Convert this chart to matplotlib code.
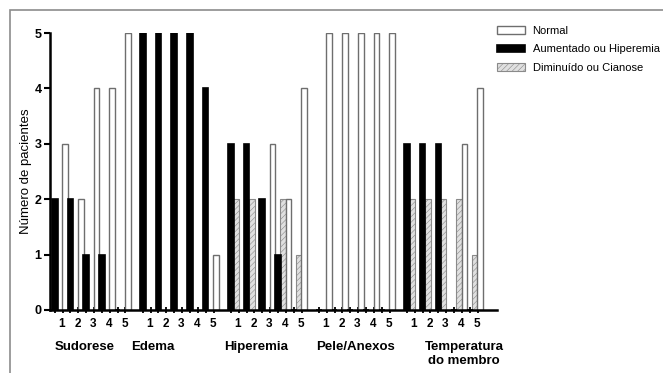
import matplotlib
matplotlib.use("Agg")
import matplotlib.pyplot as plt
from matplotlib.patches import Rectangle
import numpy as np

plt.rcParams['font.family'] = ['Liberation Sans', 'DejaVu Sans']
plt.rcParams['hatch.color'] = '#cfcfcf'
plt.rcParams['hatch.linewidth'] = 0.4

# ---- data ----
groups = ['Sudorese', 'Edema', 'Hiperemia', 'Pele/Anexos', 'Temperatura\ndo membro']
subs = ['1', '2', '3', '4', '5']
normal = [3, 2, 4, 4, 5,
          0, 0, 0, 0, 1,
          0, 0, 3, 2, 4,
          5, 5, 5, 5, 5,
          0, 0, 0, 3, 4]
aumentado = [2, 2, 1, 1, 0,
             5, 5, 5, 5, 4,
             3, 3, 2, 1, 0,
             0, 0, 0, 0, 0,
             3, 3, 3, 0, 0]
diminuido = [0, 0, 0, 0, 0,
             0, 0, 0, 0, 0,
             2, 2, 0, 2, 1,
             0, 0, 0, 0, 0,
             2, 2, 2, 2, 1]
series_labels = ['Normal', 'Aumentado ou Hiperemia', 'Diminuído ou Cianose']
ylabel = 'Número de pacientes'

# ---- layout ----
W, H = 663, 373
fig = plt.figure(figsize=(W / 100, H / 100), dpi=100)
ax = fig.add_axes([50 / W, 1 - 310 / H, 447 / W, 277 / H])

gap = 0.6
nsub = len(subs)
group_start = np.array([g * (nsub + gap) for g in range(len(groups))])
slot_x = np.concatenate([gs + np.arange(nsub) for gs in group_start])
bw = 0.36

b_aum = ax.bar(slot_x + 0.17, aumentado, width=bw, color='black',
               edgecolor='black', linewidth=1.2, label=series_labels[1], zorder=3)
b_dim = ax.bar(slot_x + 0.5, diminuido, width=bw, color='#e0e0e0',
               edgecolor='#8a8a8a', linewidth=0.8, hatch='//////',
               label=series_labels[2], zorder=2)
b_nor = ax.bar(slot_x + 0.83, normal, width=bw, color='white',
               edgecolor='#6e6e6e', linewidth=1.0, label=series_labels[0], zorder=2)

ax.set_xlim(-0.13, 28.3)
ax.set_ylim(0, 5)
for s in ['top', 'right']:
    ax.spines[s].set_visible(False)
for s in ['left', 'bottom']:
    ax.spines[s].set_linewidth(1.8)
    ax.spines[s].set_zorder(5)

ax.set_yticks(range(0, 6))
ax.set_yticklabels([str(i) for i in range(0, 6)], fontsize=9, fontweight='bold')
ax.tick_params(axis='y', length=4, width=1.5, pad=2)

# x ticks: sub labels under each slot
ax.set_xticks(slot_x + 0.62)
ax.set_xticklabels(subs * len(groups), fontsize=8.5, fontweight='bold')
ax.tick_params(axis='x', length=0, pad=6)
minor = np.concatenate([slot_x + 0.17, slot_x + 0.67])
ax.set_xticks(minor, minor=True)
ax.tick_params(axis='x', which='minor', length=5, width=1.3, direction='inout')

ax.set_ylabel(ylabel, fontsize=9.5, labelpad=2)

group_label_x = [2.05, 6.4, 13.0, 19.3, 26.2]
for gx, name in zip(group_label_x, groups):
    two = '\n' in name
    ax.text(gx, -0.56 if two else -0.67, name, ha='center',
            va='top' if two else 'center',
            fontsize=9.5, fontweight='bold', linespacing=1.25,
            transform=ax.transData, clip_on=False)

# legend
leg = fig.legend(handles=[b_nor, b_aum, b_dim], labels=series_labels,
                 loc='upper left', bbox_to_anchor=(497 / W, 1 - 26 / H),
                 frameon=False, fontsize=8, handlelength=2.5, handleheight=0.7,
                 labelspacing=0.75, handletextpad=0.7, borderpad=0, borderaxespad=0)

# outer frame
fig.add_artist(Rectangle((10 / W, -0.2), 1.2, 1.2 - 10 / H, transform=fig.transFigure,
                         fill=False, edgecolor='#8c8c8c', linewidth=1.2))

fig.savefig('out.png', dpi=100)
